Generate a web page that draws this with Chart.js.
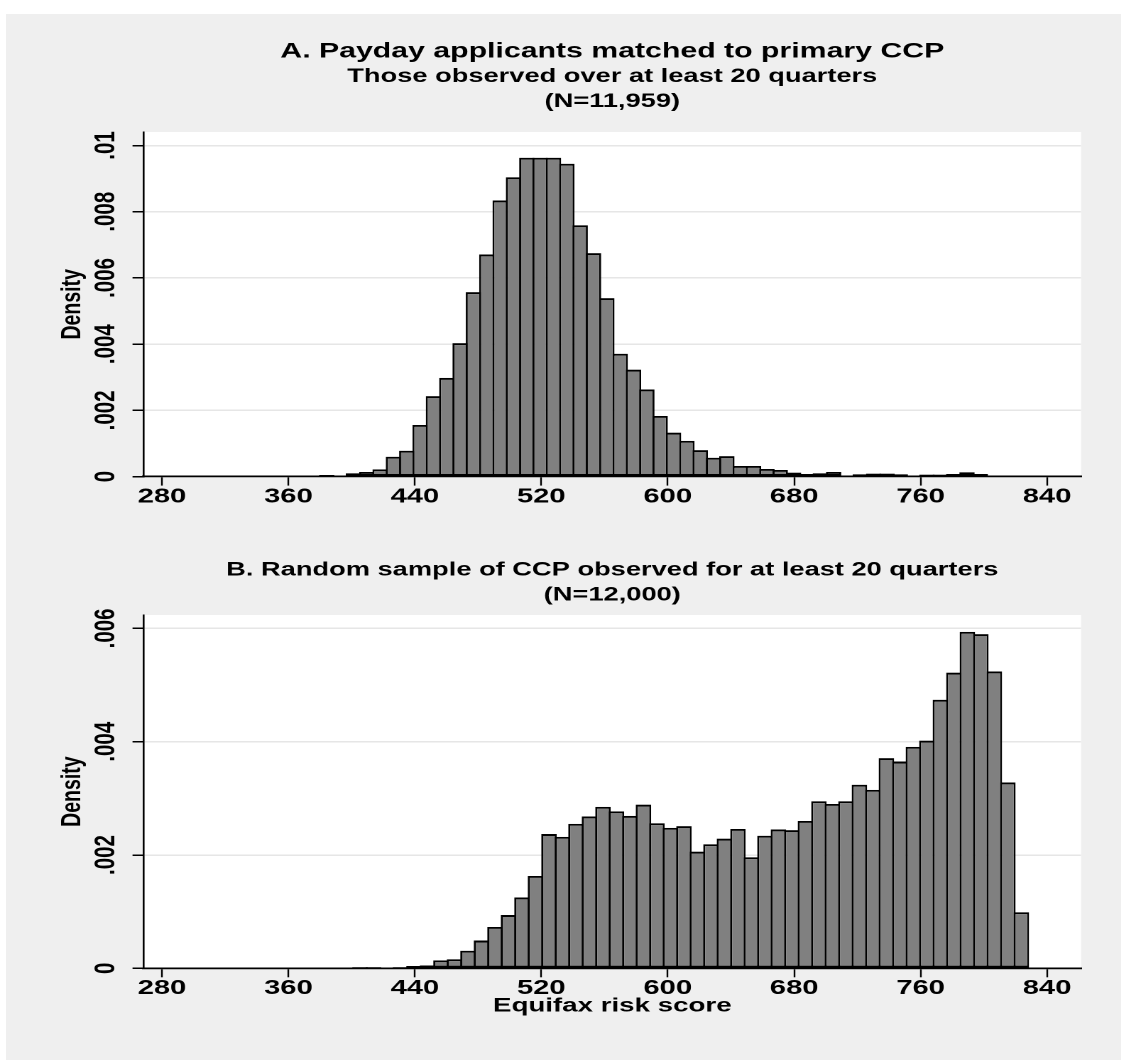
<!DOCTYPE html>
<html>
<head>
<meta charset="utf-8">
<title>Equifax risk score distributions</title>
<script src="https://cdn.jsdelivr.net/npm/chart.js@4.4.1/dist/chart.umd.min.js"></script>
<style>
  html, body { margin: 0; padding: 0; background: #ffffff; }
  #figure { position: absolute; left: 6px; top: 14px; width: 1115px; height: 1046px; background: #efefef; }
  .panel { position: absolute; left: 0; width: 794px; transform-origin: 0 0; transform: scaleX(1.42); }
  #panelA { top: 14px; height: 516px; }
  #panelB { top: 530px; height: 530px; }
</style>
</head>
<body>
<div id="figure"></div>
<div id="panelA" class="panel"><canvas id="chartA"></canvas></div>
<div id="panelB" class="panel"><canvas id="chartB"></canvas></div>
<script>
// ---- data -------------------------------------------------------------
// Shared x axis ticks (Equifax risk score)
const tickValuesX = [280, 360, 440, 520, 600, 680, 760, 840];

// Panel A: payday applicants, 50 equal-width bins
const binStartA = 380;
const binWidthA = 8.44;
const densityA = [
  0.00005, 0.00003, 0.00010, 0.00014, 0.00022, 0.00060, 0.00078, 0.00156, 0.00243, 0.00298,
  0.00403, 0.00557, 0.00671, 0.00834, 0.00904, 0.00963, 0.00963, 0.00963, 0.00945, 0.00759,
  0.00675, 0.00539, 0.00371, 0.00323, 0.00263, 0.00183, 0.00133, 0.00108, 0.00080, 0.00057,
  0.00062, 0.00032, 0.00032, 0.00023, 0.00020, 0.00012, 0.00008, 0.00010, 0.00014, 0.00000,
  0.00007, 0.00009, 0.00009, 0.00007, 0.00003, 0.00006, 0.00006, 0.00008, 0.00013, 0.00008
];
const yTicksA = [0, 0.002, 0.004, 0.006, 0.008, 0.01];

// Panel B: random CCP sample, 50 equal-width bins
const binStartB = 401;
const binWidthB = 8.54;
const densityB = [
  0.00002, 0.00002, 0.00000, 0.00002, 0.00004, 0.00005, 0.00014, 0.00016, 0.00031, 0.00049,
  0.00073, 0.00094, 0.00125, 0.00163, 0.00237, 0.00232, 0.00255, 0.00268, 0.00285, 0.00277,
  0.00269, 0.00289, 0.00256, 0.00248, 0.00251, 0.00206, 0.00219, 0.00229, 0.00246, 0.00196,
  0.00234, 0.00245, 0.00244, 0.00260, 0.00295, 0.00290, 0.00295, 0.00324, 0.00315, 0.00371,
  0.00365, 0.00391, 0.00402, 0.00474, 0.00522, 0.00594, 0.00590, 0.00524, 0.00328, 0.00099
];
const yTicksB = [0, 0.002, 0.004, 0.006];

// Text
const titleA = 'A. Payday applicants matched to primary CCP';
const subtitleA = ['Those observed over at least 20 quarters', '(N=11,959)'];
const titleB = ['B. Random sample of CCP observed for at least 20 quarters', '(N=12,000)'];
const yAxisLabel = 'Density';
const xAxisLabel = 'Equifax risk score';

// ---- drawing ----------------------------------------------------------
const FONT = "'Liberation Sans', Arial, Helvetica, sans-serif";
Chart.defaults.font.family = FONT;
Chart.defaults.color = '#000000';

const X_MIN = 268.3;
const X_MAX = 861.5;
const Y_AXIS_WIDTH = 101.06;
const RIGHT_PAD = 32.7;

// white plot region inside the grey graph region
const plotBackground = {
  id: 'plotBackground',
  beforeDraw(chart) {
    const { ctx, chartArea: a } = chart;
    ctx.save();
    ctx.fillStyle = '#ffffff';
    ctx.fillRect(a.left, a.top, a.right - a.left, a.bottom - a.top);
    ctx.restore();
  }
};

function binPoints(start, width, values) {
  return values.map((v, i) => ({ x: start + (i + 0.5) * width, y: v }));
}

function densityLabel(v) {
  return v === 0 ? '0' : String(v).replace(/^0(?=\.)/, '');
}

function histogram(canvasId, cfg) {
  return new Chart(document.getElementById(canvasId), {
    type: 'bar',
    data: {
      datasets: [{
        data: binPoints(cfg.binStart, cfg.binWidth, cfg.values),
        backgroundColor: '#808080',
        borderColor: '#000000',
        borderWidth: { left: 1.4, right: 1.4, top: 1.9, bottom: 1.9 },
        borderSkipped: false,
        barPercentage: cfg.barPct,
        categoryPercentage: 1
      }]
    },
    options: {
      responsive: true,
      maintainAspectRatio: false,
      animation: false,
      devicePixelRatio: 2,
      events: [],
      layout: { padding: { left: 0, right: RIGHT_PAD, top: 0, bottom: 0 } },
      plugins: {
        legend: { display: false },
        tooltip: { enabled: false },
        title: cfg.title,
        subtitle: cfg.subtitle
      },
      scales: {
        x: {
          type: 'linear',
          min: X_MIN,
          max: X_MAX,
          offset: false,
          afterBuildTicks: s => { s.ticks = tickValuesX.map(v => ({ value: v })); },
          afterFit: s => { s.height = cfg.xAxisHeight; },
          grid: { drawOnChartArea: false, drawTicks: true, tickLength: 9, tickColor: '#000000', tickWidth: 1.2, offset: false },
          border: { display: true, color: '#000000', width: 1.8 },
          ticks: {
            autoSkip: false, maxRotation: 0, minRotation: 0, padding: -1.3,
            color: '#000000', font: { size: 20.5, weight: 'bold' },
            callback: v => String(v)
          },
          title: cfg.xTitle
        },
        y: {
          type: 'linear',
          min: 0,
          max: cfg.yMax,
          afterBuildTicks: s => { s.ticks = cfg.yTicks.map(v => ({ value: v })); },
          afterFit: s => { s.width = Y_AXIS_WIDTH; },
          grid: {
            color: c => (c.tick && c.tick.value === 0) ? 'rgba(0,0,0,0)' : '#e6e6e6',
            lineWidth: 1.5, drawTicks: true, tickLength: 7.75, tickColor: '#000000', tickWidth: 1.5
          },
          border: { display: true, color: '#000000', width: 1.3 },
          ticks: {
            autoSkip: false, minRotation: 90, maxRotation: 90, crossAlign: 'center', padding: -1.7,
            color: '#000000', font: { size: 20.5, weight: 'bold' },
            callback: densityLabel
          },
          title: {
            display: true, text: yAxisLabel, color: '#000000',
            font: { size: 19.5, weight: 'bold' }, padding: { top: 39.3, bottom: 0 }
          }
        }
      }
    },
    plugins: [plotBackground]
  });
}

histogram('chartA', {
  binStart: binStartA, binWidth: binWidthA, values: densityA,
  barPct: 1.149, yMax: 0.010408, yTicks: yTicksA, xAxisHeight: 53.4,
  title: {
    display: true, text: titleA, fullSize: false, color: '#000000',
    font: { size: 21.3, weight: 'bold', lineHeight: '25px' }, padding: { top: 25, bottom: 0 }
  },
  subtitle: {
    display: true, text: subtitleA, fullSize: false, color: '#000000',
    font: { size: 19.2, weight: 'bold', lineHeight: '25px' }, padding: { top: 0, bottom: 18 }
  },
  xTitle: { display: false }
});

histogram('chartB', {
  binStart: binStartB, binWidth: binWidthB, values: densityB,
  barPct: 1.147, yMax: 0.006237, yTicks: yTicksB, xAxisHeight: 91.7,
  title: {
    display: true, text: titleB, fullSize: false, color: '#000000',
    font: { size: 19.2, weight: 'bold', lineHeight: '25px' }, padding: { top: 27.5, bottom: 7.5 }
  },
  subtitle: { display: false },
  xTitle: {
    display: true, text: xAxisLabel, color: '#000000',
    font: { size: 19.5, weight: 'bold' }, padding: { top: 0, bottom: 42.3 }
  }
});
</script>
</body>
</html>
